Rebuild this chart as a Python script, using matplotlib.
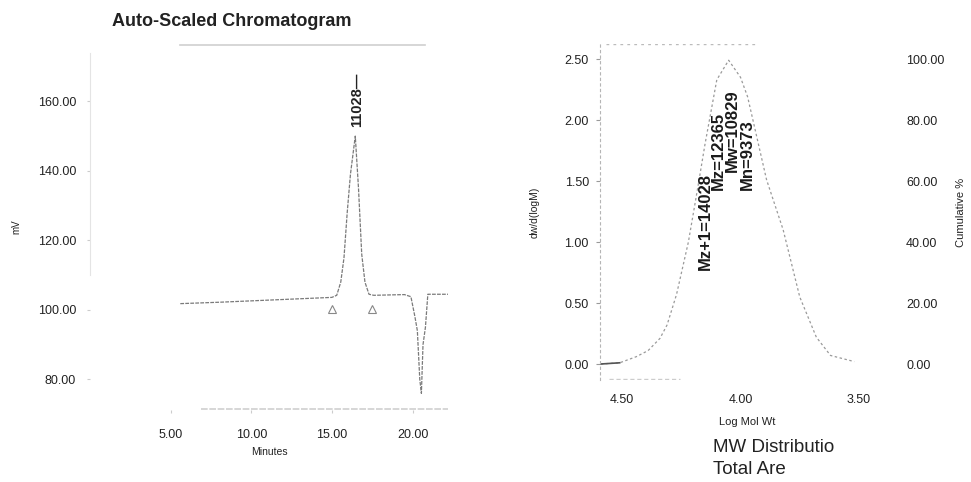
import numpy as np
import matplotlib
matplotlib.use('Agg')
import matplotlib.pyplot as plt
from matplotlib.ticker import FormatStrFormatter

plt.rcParams['font.family'] = ['Liberation Sans', 'DejaVu Sans']

# chromatogram trace (minutes, mV)
times = [5.6, 8.0, 10.0, 12.0, 14.0, 15.0, 15.3, 15.55, 15.75, 15.95, 16.15, 16.45,
         16.65, 16.85, 17.05, 17.3, 17.6, 18.5, 19.5, 19.9, 20.15, 20.3, 20.45, 20.55,
         20.65, 20.8, 20.95, 22.2]
mv = [101.8, 102.2, 102.6, 103.0, 103.4, 103.6, 104.2, 108.0, 115.0, 128.0, 139.0, 150.0,
      135.0, 116.0, 108.0, 104.5, 104.2, 104.3, 104.4, 103.8, 98.0, 94.0, 80.0, 76.0,
      90.0, 95.0, 104.5, 104.5]
peak_time = 16.45
peak_label = "11028"
drop_times = [15.0, 17.5]
drop_mv = [100.3, 100.3]

# MW distribution (log M, dw/dlogM)
log_mw = [4.59, 4.51, 4.44, 4.39, 4.34, 4.31, 4.27, 4.22, 4.18, 4.15, 4.10, 4.05,
          4.00, 3.97, 3.93, 3.89, 3.82, 3.75, 3.68, 3.62, 3.52]
dw = [0.00, 0.01, 0.06, 0.11, 0.21, 0.32, 0.57, 1.00, 1.45, 1.80, 2.33, 2.49,
      2.35, 2.19, 1.85, 1.51, 1.10, 0.55, 0.22, 0.07, 0.02]
avg_names = ["Mz+1", "Mz", "Mw", "Mn"]
avg_values = [14028, 12365, 10829, 9373]
avg_label_base = [0.77, 1.43, 1.57, 1.43]

fig = plt.figure(figsize=(9.71, 4.82), dpi=100)
fig.patch.set_facecolor('white')

trace_col = '#7a7a7a'
frame_col = '#cfcfcf'
txt_col = '#222222'

# ---------------- left: chromatogram ----------------
ax = fig.add_axes([90 / 971, 1 - 410 / 482, 358 / 971, 366 / 482])
ax.plot(times, mv, color=trace_col, lw=0.9, ls=(0, (3, 1)))
ax.plot(drop_times, drop_mv, ls='none', marker='^', mfc='none', mec='#888888', ms=6, mew=0.8)
ax.text(peak_time + 0.1, 152.5, peak_label + "\u2014", rotation=90, ha='center', va='bottom',
        fontsize=10.5, fontweight='bold', color=txt_col)
ax.set_xlim(0, 22.2)
ax.set_ylim(71.2, 176.5)
ax.set_xticks([5, 10, 15, 20])
ax.set_yticks([80, 100, 120, 140, 160])
ax.xaxis.set_major_formatter(FormatStrFormatter('%.2f'))
ax.yaxis.set_major_formatter(FormatStrFormatter('%.2f'))
for s in ['top', 'right', 'bottom']:
    ax.spines[s].set_visible(False)
ax.spines['left'].set_color('#e4e4e4')
ax.spines['left'].set_bounds(110, 174)
ax.axhline(176.3, xmin=0.25, xmax=0.936, color=frame_col, lw=1.2)
ax.axhline(71.5, xmin=0.31, xmax=1.0, color=frame_col, lw=1.2, ls=(0, (4, 1)))
ax.tick_params(axis='both', length=2, color='#cccccc', labelsize=9, labelcolor=txt_col)
ax.tick_params(axis='x', pad=12)
ax.tick_params(axis='y', pad=8)
ax.set_xlabel('Minutes', fontsize=7.5, color=txt_col, labelpad=4)
ax.set_ylabel('mV', fontsize=7, color=txt_col, labelpad=12)
fig.text(232 / 971, 1 - 22 / 482, 'Auto-Scaled Chromatogram', ha='center', va='center',
         fontsize=13, fontweight='bold', color=txt_col)

# ---------------- right: MW distribution ----------------
ax2 = fig.add_axes([600 / 971, 1 - 380 / 482, 295 / 971, 336 / 482])
ax2.plot(log_mw, dw, color='#9a9a9a', lw=0.9, ls=(0, (2, 2)))
ax2.plot(log_mw[:2], dw[:2], color='#555555', lw=1.2)
for name, val, base in zip(avg_names, avg_values, avg_label_base):
    ax2.text(np.log10(val), base, f"{name}={val}", rotation=90, ha='center', va='bottom',
             fontsize=12, fontweight='bold', color='#1a1a1a')
ax2.set_xlim(4.593, 3.348)
ax2.set_ylim(-0.131, 2.623)
ax2.set_xticks([4.5, 4.0, 3.5])
ax2.set_yticks([0, 0.5, 1.0, 1.5, 2.0, 2.5])
ax2.xaxis.set_major_formatter(FormatStrFormatter('%.2f'))
ax2.yaxis.set_major_formatter(FormatStrFormatter('%.2f'))
for s in ['top', 'right', 'bottom']:
    ax2.spines[s].set_visible(False)
ax2.spines['left'].set_color('#b5b5b5')
ax2.spines['left'].set_linestyle((0, (2, 3)))
ax2.axhline(2.62, xmin=0.02, xmax=0.53, color='#bbbbbb', lw=1, ls=(0, (2, 3)))
ax2.axhline(-0.125, xmin=0.03, xmax=0.27, color='#cccccc', lw=1, ls=(0, (3, 2)))
ax2.tick_params(axis='both', length=3, color='#999999', labelsize=9, labelcolor=txt_col)
ax2.tick_params(axis='x', length=0, pad=10)
ax2.tick_params(axis='y', pad=5)
ax2.set_xlabel('Log Mol Wt', fontsize=8, color=txt_col, labelpad=8)
ax2.set_ylabel('dw/d(logM)', fontsize=7.5, color=txt_col, labelpad=18)

ax3 = ax2.twinx()
ax3.set_ylim(-0.131 * 40, 2.623 * 40)
ax3.set_yticks([0, 20, 40, 60, 80, 100])
ax3.yaxis.set_major_formatter(FormatStrFormatter('%.2f'))
for s in ['top', 'right', 'bottom', 'left']:
    ax3.spines[s].set_visible(False)
ax3.tick_params(axis='y', length=0, pad=8, labelsize=9, labelcolor=txt_col)
ax3.set_ylabel('Cumulative %', fontsize=8, color=txt_col, labelpad=8)

fig.text(713 / 971, 1 - 447 / 482, 'MW Distributio', ha='left', va='center',
         fontsize=13.5, color=txt_col)
fig.text(713 / 971, 1 - 470 / 482, 'Total Are', ha='left', va='center',
         fontsize=13.5, color=txt_col)

fig.savefig('out.png', dpi=100)
